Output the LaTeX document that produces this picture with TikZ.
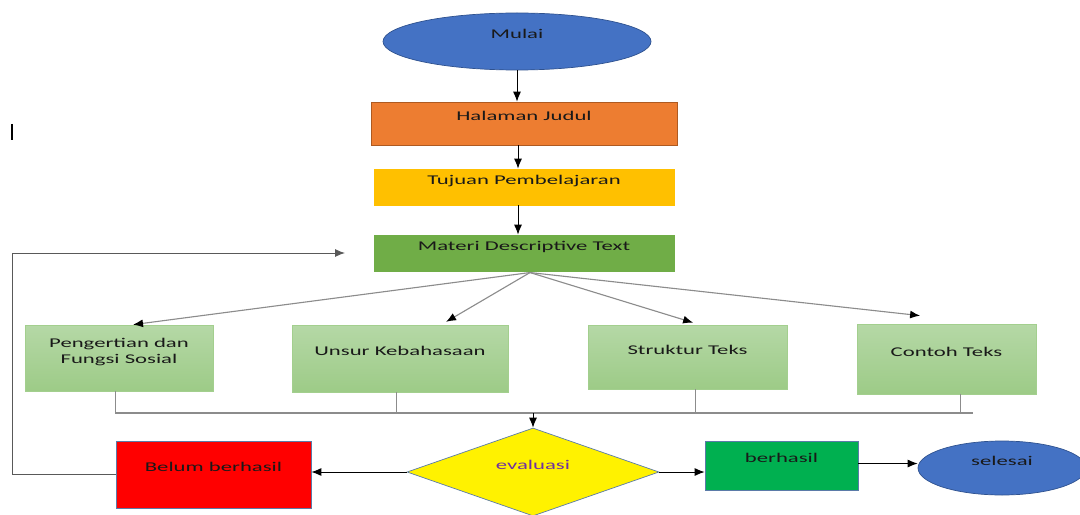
\documentclass[tikz,border=0pt]{standalone}
\usepackage{fontspec}
\setmainfont{Carlito}[FakeStretch=1.7]
\usetikzlibrary{arrows.meta,positioning,shapes.geometric}

\definecolor{mblue}{HTML}{4472C4}
\definecolor{mblueline}{HTML}{2F528F}
\definecolor{morange}{HTML}{ED7D31}
\definecolor{morangeline}{HTML}{AE5A21}
\definecolor{mgold}{HTML}{FFC000}
\definecolor{mgreen}{HTML}{70AD47}
\definecolor{lgreentop}{HTML}{B5D8A6}
\definecolor{lgreenbot}{HTML}{9DCB87}
\definecolor{lgreenline}{HTML}{A3CF8E}
\definecolor{mred}{HTML}{FF0000}
\definecolor{mok}{HTML}{00B050}
\definecolor{mframe}{HTML}{5B7BA8}
\definecolor{mpurple}{HTML}{7030A0}
\definecolor{mgrey}{HTML}{8C8C8C}
\definecolor{mdark}{HTML}{595959}

\begin{document}
\begin{tikzpicture}[
    every node/.style={font=\fontsize{9.5}{12}\selectfont, text=black!90, inner sep=2pt, text depth=0.36cm},
    terminal/.style={
        ellipse,
        draw=mblueline,
        fill=mblue,
        line width=0.5pt
    },
    box/.style={
        draw,
        align=center,
        line width=0.5pt
    },
    topicbox/.style={
        box,
        draw=lgreenline,
        top color=lgreentop,
        bottom color=lgreenbot
    },
    line/.style={-{Latex[length=2.5mm,width=2mm]}, line width=0.7pt},
    fan/.style={-{Latex[length=2.5mm,width=2mm,color=black]}, draw=mgrey, line width=0.8pt},
    bus/.style={draw=mgrey, line width=0.8pt}
]
\useasboundingbox (0,0) rectangle (27,-12.85);

% Start and opening pages
\node[terminal, minimum width=6.7cm, minimum height=1.425cm] (mulai) at (12.925,-1.0375) {Mulai};
\node[box, draw=morangeline, fill=morange, minimum width=7.65cm, minimum height=1.075cm] (halaman) at (13.1,-3.0875) {Halaman Judul};
\node[box, draw=mgold, fill=mgold, minimum width=7.5cm, minimum height=0.9cm] (tujuan) at (13.1,-4.675) {Tujuan Pembelajaran};
\node[box, draw=mgreen, fill=mgreen, minimum width=7.5cm, minimum height=0.9cm] (materi) at (13.1,-6.325) {Materi Descriptive Text};

% Topics
\node[topicbox, minimum width=4.7cm, minimum height=1.65cm] (pengertian) at (2.975,-8.95) {Pengertian dan\\Fungsi Sosial};
\node[topicbox, minimum width=5.4cm, minimum height=1.675cm] (unsur) at (10.0,-8.9625) {Unsur Kebahasaan};
\node[topicbox, minimum width=4.975cm, minimum height=1.6cm] (struktur) at (17.1875,-8.925) {Struktur Teks};
\node[topicbox, minimum width=4.475cm, minimum height=1.75cm] (contoh) at (23.6625,-8.975) {Contoh Teks};

% Evaluation and outcomes
\node[diamond, shape aspect=2.86, draw=mframe, fill=yellow, line width=0.5pt, minimum width=6.3cm, minimum height=2.2cm, text=mpurple] (evaluasi) at (13.325,-11.8) {evaluasi};
\node[box, draw=mframe, fill=mred, minimum width=4.875cm, minimum height=1.675cm] (belum) at (5.3375,-11.8625) {Belum berhasil};
\node[box, draw=mframe, fill=mok, minimum width=3.825cm, minimum height=1.225cm] (berhasil) at (19.5375,-11.6375) {berhasil};
\node[terminal, minimum width=4.2cm, minimum height=1.35cm] (selesai) at (25.05,-11.7) {selesai};

% Helper points
\coordinate (fanfrom) at ([xshift=0.15cm,yshift=-0.03cm]materi.south);
\coordinate (busend) at (24.325,-10.325);
\coordinate (loopend) at (8.625,-6.325);

% Arrows
\draw[line] (mulai.south) -- (mulai.south |- halaman.north);
\draw[line] ([xshift=-0.15cm]halaman.south) -- ([xshift=-0.15cm]tujuan.north);
\draw[line] ([xshift=-0.15cm]tujuan.south) -- ([xshift=-0.15cm]materi.north);

\draw[fan] (fanfrom) -- ([xshift=0.35cm]pengertian.north);
\draw[fan] (fanfrom) -- ([xshift=1.15cm,yshift=0.07cm]unsur.north);
\draw[fan] (fanfrom) -- ([xshift=0.14cm,yshift=0.05cm]struktur.north);
\draw[fan] (fanfrom) -- ([xshift=-0.66cm,yshift=0.2cm]contoh.north);

\draw[bus] ([xshift=-0.08cm]pengertian.south) |- (busend);
\draw[bus] ([xshift=-0.08cm]unsur.south) -- ([xshift=-0.08cm]unsur.south |- busend);
\draw[bus] ([xshift=0.19cm]struktur.south) -- ([xshift=0.19cm]struktur.south |- busend);
\draw[bus] ([xshift=0.36cm]contoh.south) -- ([xshift=0.36cm]contoh.south |- busend);
\draw[line] (evaluasi.north |- busend) -- (evaluasi.north);

\draw[line] (evaluasi.west) -- (evaluasi.west -| belum.east);
\draw[line] (evaluasi.east) -- (evaluasi.east -| berhasil.west);
\draw[line] ([yshift=0.05cm]berhasil.east) -- ([yshift=0.05cm]berhasil.east -| selesai.west);
\draw[line, draw=mdark] (belum.west) -- ++(-2.575,0) |- (loopend);

% stray cursor mark
\draw[line width=1.2pt] (0.3,-3.1) -- (0.3,-3.5);

\end{tikzpicture}
\end{document}
